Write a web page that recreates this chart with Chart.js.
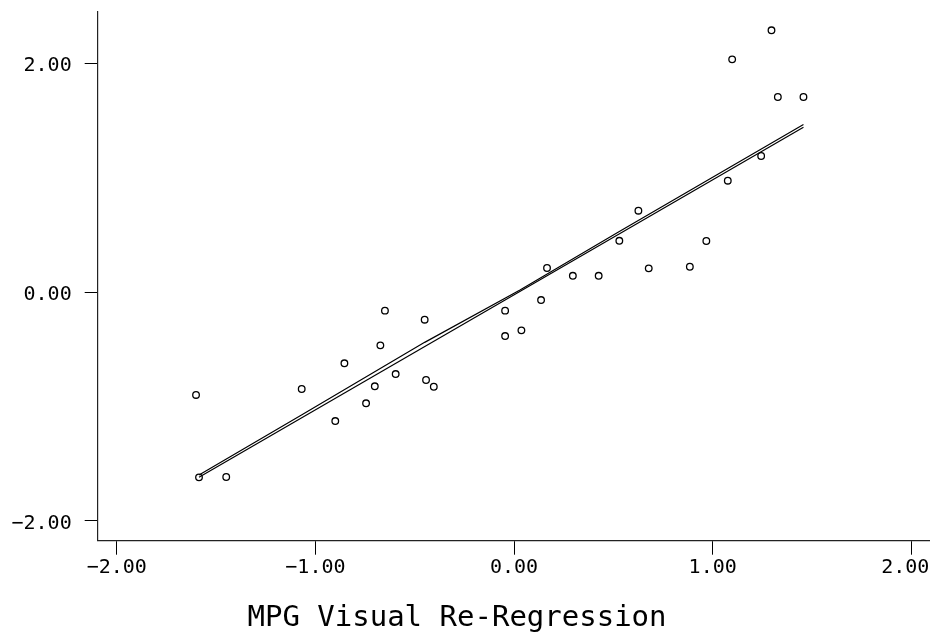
<!DOCTYPE html>
<html>
<head>
<meta charset="utf-8">
<script src="https://cdn.jsdelivr.net/npm/chart.js@4/dist/chart.umd.min.js"></script>
<style>
  html, body { margin: 0; padding: 0; background: #fff; }
  #wrap { width: 930px; height: 634px; }
</style>
</head>
<body>
<div id="wrap"><canvas id="c" width="930" height="634"></canvas></div>
<script>
const pointX = [-1.601, -1.586, -1.449, -1.069, -0.900, -0.854, -0.745, -0.701, -0.673, -0.650,
                -0.596, -0.450, -0.443, -0.404, -0.045, -0.045, 0.037, 0.136, 0.166, 0.296,
                0.426, 0.530, 0.626, 0.678, 0.885, 0.968, 1.076, 1.098, 1.244, 1.296,
                1.328, 1.457];
const pointY = [-0.900, -1.620, -1.617, -0.848, -1.128, -0.623, -0.973, -0.824, -0.466, -0.163,
                -0.717, -0.242, -0.769, -0.828, -0.163, -0.385, -0.335, -0.070, 0.210, 0.142,
                0.142, 0.448, 0.711, 0.207, 0.221, 0.446, 0.973, 2.034, 1.189, 2.288,
                1.705, 1.705];

// Straight fit line
const fitX = [-1.586, 1.457];
const fitY = [-1.620, 1.440];

// Slightly irregular second fit line
const curveX = [-1.586, -1.07, -0.45, 0.03, 0.53, 1.08, 1.457];
const curveY = [-1.600, -1.075, -0.440, 0.018, 0.530, 1.085, 1.465];

// Axis tick values
const xTicks = [-2, -1, 0, 1, 2];
const yTicks = [-2, 0, 2];

const titleText = 'MPG Visual Re-Regression';

const toXY = (xs, ys) => xs.map((x, i) => ({ x: x, y: ys[i] }));

const monoFont = "'DejaVu Sans Mono', 'Liberation Mono', monospace";
const fmt = (v) => Number(v).toFixed(2).replace('-', '\u2212');

new Chart(document.getElementById('c'), {
  type: 'scatter',
  data: {
    datasets: [
      {
        data: toXY(pointX, pointY),
        pointStyle: 'circle',
        pointRadius: 3.3,
        pointBorderWidth: 1.3,
        pointBorderColor: '#000',
        pointBackgroundColor: 'rgba(255,255,255,0)',
        showLine: false,
        order: 0
      },
      {
        data: toXY(fitX, fitY),
        showLine: true,
        borderColor: '#000',
        borderWidth: 1.2,
        pointRadius: 0,
        tension: 0,
        order: 1
      },
      {
        data: toXY(curveX, curveY),
        showLine: true,
        borderColor: '#000',
        borderWidth: 1.2,
        pointRadius: 0,
        tension: 0,
        order: 2
      }
    ]
  },
  options: {
    responsive: false,
    animation: false,
    events: [],
    layout: { autoPadding: false, padding: { top: 12, right: 0, left: -16, bottom: 0 } },
    plugins: {
      legend: { display: false },
      tooltip: { enabled: false },
      title: {
        display: true,
        position: 'bottom',
        text: titleText,
        color: '#000',
        font: { family: monoFont, size: 29, weight: 'normal', lineHeight: 1.1 },
        padding: { top: 0, bottom: 0 }
      }
    },
    scales: {
      x: {
        type: 'linear',
        min: -2.096,
        max: 2.094,
        afterBuildTicks: (s) => { s.ticks = xTicks.map(v => ({ value: v })); },
        afterFit: (s) => {
          s.height = 61.4;
          s.paddingLeft = 0; s.paddingRight = 0;
          s.getPadding = () => ({ left: 0, top: 0, right: 0, bottom: 0 });
        },
        ticks: {
          color: '#000',
          font: { family: monoFont, size: 20 },
          padding: 1,
          maxRotation: 0,
          autoSkip: false,
          // last label is nudged inward (trailing space) so it stays inside the canvas, as in the original
          callback: (v, i, arr) => fmt(v) + (i === arr.length - 1 ? ' ' : '')
        },
        grid: { display: true, drawOnChartArea: false, drawTicks: true, tickLength: 14, color: '#000', lineWidth: 1 },
        border: { display: true, color: '#222', width: 1.2 }
      },
      y: {
        type: 'linear',
        min: -2.174,
        max: 2.448,
        afterBuildTicks: (s) => { s.ticks = yTicks.map(v => ({ value: v })); },
        afterFit: (s) => { s.width = 113.7; s.paddingTop = 0; s.paddingBottom = 0; },
        ticks: {
          color: '#000',
          font: { family: monoFont, size: 20 },
          padding: 13,
          labelOffset: 3,
          callback: fmt
        },
        grid: { display: true, drawOnChartArea: false, drawTicks: true, tickLength: 13, color: '#000', lineWidth: 1 },
        border: { display: true, color: '#222', width: 1.2 }
      }
    }
  }
});
</script>
</body>
</html>
